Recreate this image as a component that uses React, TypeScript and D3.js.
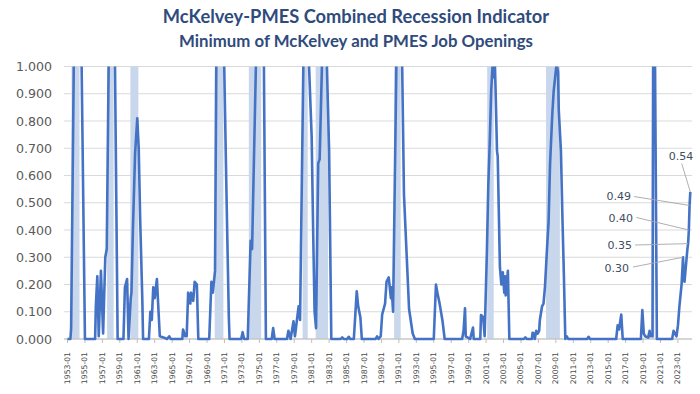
import React, { useEffect, useRef } from "react";
import * as d3 from "d3";

// Puntos del indicador (mes, valor). Valores > 1 quedan recortados por el eje.
const months: string[] = [
  "1953-01", "1953-05", "1953-06", "1953-10", "1954-08", "1955-01",
  "1956-03", "1956-04", "1956-06", "1956-08", "1956-11", "1957-02", "1957-05", "1957-07", "1957-10", "1958-06", "1958-10",
  "1959-06", "1959-08", "1959-11", "1960-01", "1960-04", "1960-05", "1960-07", "1960-10", "1961-01", "1961-03", "1961-05", "1961-08", "1961-09",
  "1962-05", "1962-07", "1962-09", "1962-11", "1963-01", "1963-04", "1963-08", "1964-02", "1964-06", "1964-09", "1964-11",
  "1966-03", "1966-04", "1966-07", "1966-09", "1966-11", "1967-02", "1967-03", "1967-06", "1967-08", "1967-11", "1968-01",
  "1969-04", "1969-07", "1969-09", "1969-12", "1970-02", "1970-12", "1971-04", "1971-07", "1971-08",
  "1972-12", "1973-02", "1973-04", "1973-09", "1974-01", "1974-03", "1974-09", "1975-07", "1975-10",
  "1976-06", "1976-08", "1976-10", "1978-03", "1978-05", "1978-08", "1978-12", "1979-02", "1979-07", "1979-09",
  "1980-02", "1980-08", "1981-01", "1981-03", "1981-05", "1981-07", "1981-10", "1981-12", "1982-04", "1982-09", "1983-01", "1983-04",
  "1984-05", "1984-07", "1984-09", "1985-02", "1985-04", "1985-06", "1985-11", "1986-03", "1986-05", "1986-08", "1986-10",
  "1988-05", "1988-07", "1988-09", "1988-12", "1989-02", "1989-06", "1989-08", "1989-11", "1990-02", "1990-03", "1990-05",
  "1990-10", "1991-05", "1991-08", "1991-12", "1992-03", "1992-08", "1992-11",
  "1995-01", "1995-04", "1995-06", "1995-09", "1996-01", "1996-04",
  "1998-04", "1998-06", "1998-08", "1998-09", "1999-03", "1999-07", "1999-08", "2000-05", "2000-06", "2000-09", "2000-11",
  "2001-02", "2001-04", "2001-06", "2001-08", "2001-10", "2001-12", "2002-01", "2002-02", "2002-04", "2002-05", "2002-08",
  "2002-10", "2002-12", "2003-02", "2003-03", "2003-04", "2003-07", "2003-09",
  "2005-05", "2005-07", "2005-09", "2006-04", "2006-05", "2006-07", "2006-08", "2006-10", "2006-12", "2007-02", "2007-03",
  "2007-06", "2007-08", "2007-10", "2008-01", "2008-03", "2008-05", "2008-08", "2008-10", "2008-12", "2009-02", "2009-04",
  "2009-05", "2009-08", "2009-10", "2009-12", "2010-02", "2010-04", "2010-06",
  "2012-08", "2012-10", "2012-12", "2015-12", "2016-02", "2016-04", "2016-07", "2016-09",
  "2018-10", "2018-12", "2019-02", "2019-04", "2019-08", "2019-10", "2019-11", "2020-02", "2020-03", "2020-05", "2020-08",
  "2022-05", "2022-07", "2022-09", "2022-11", "2023-01", "2023-03", "2023-06", "2023-08", "2023-09", "2023-10", "2023-11",
  "2024-01", "2024-02", "2024-03", "2024-04", "2024-05", "2024-06",
];

const values: number[] = [
  0, 0, 0.04, 1.1, 1.1, 0,
  0, 0.12, 0.23, 0.01, 0.25, 0.02, 0.30, 0.33, 1.1, 1.1, 0,
  0, 0.19, 0.22, 0, 0.15, 0.17, 0.40, 0.68, 0.81, 0.70, 0.44, 0.14, 0,
  0, 0.10, 0.07, 0.19, 0.15, 0.22, 0.01, 0.005, 0, 0.01, 0,
  0, 0.035, 0.01, 0.01, 0.17, 0.13, 0.17, 0.14, 0.21, 0.20, 0,
  0, 0.21, 0.17, 0.25, 1.1, 1.1, 0.5, 0.08, 0,
  0, 0.025, 0, 0, 0.36, 0.33, 1.1, 1.1, 0,
  0, 0.04, 0, 0, 0.03, 0, 0.065, 0.01, 0.12, 0.07,
  1.1, 1.1, 0.74, 0.40, 0.10, 0.04, 0.645, 0.66, 1.1, 1.1, 0.69, 0,
  0, 0.006, 0, 0, 0.008, 0, 0, 0.175, 0.12, 0.08, 0,
  0, 0.01, 0, 0.01, 0.09, 0.13, 0.21, 0.226, 0.15, 0.19, 0.10,
  1.1, 1.1, 0.53, 0.29, 0.11, 0.02, 0,
  0, 0.20, 0.17, 0.13, 0.067, 0,
  0, 0.03, 0.113, 0.01, 0, 0.042, 0, 0, 0.088, 0.08, 0.01,
  0.31, 0.56, 0.72, 0.91, 1.01, 0.96, 1.02, 0.92, 0.69, 0.67, 0.265,
  0.20, 0.245, 0.17, 0.23, 0.16, 0.25, 0,
  0, 0.006, 0, 0, 0.023, 0.02, 0, 0.03, 0.02, 0.03, 0.07,
  0.12, 0.13, 0.19, 0.34, 0.43, 0.64, 0.82, 0.91, 0.96, 1.01, 0.98,
  0.84, 0.69, 0.45, 0.24, 0, 0.01, 0,
  0, 0.008, 0, 0, 0.05, 0.035, 0.09, 0,
  0, 0.106, 0.02, 0.01, 0.005, 0.03, 0.01, 0.01, 1.2, 1.2, 0,
  0, 0.03, 0.02, 0.01, 0.05, 0.12, 0.20, 0.30, 0.22, 0.21, 0.24,
  0.30, 0.33, 0.35, 0.40, 0.49, 0.54,
];

// Recesiones NBER (sombreado)
const recessionStarts: string[] = ["1953-07", "1957-08", "1960-04", "1969-12", "1973-11", "1980-01", "1981-07", "1990-07", "2001-03", "2007-12", "2020-02"];
const recessionEnds: string[] = ["1954-05", "1958-04", "1961-02", "1970-11", "1975-03", "1980-07", "1982-11", "1991-03", "2001-11", "2009-06", "2020-04"];

const yTicks: number[] = [0, 0.1, 0.2, 0.3, 0.4, 0.5, 0.6, 0.7, 0.8, 0.9, 1.0];

// Etiquetas de los últimos valores
const labelMonths: string[] = ["2024-06", "2024-05", "2024-04", "2024-03", "2023-08"];
const labelValues: number[] = [0.54, 0.49, 0.40, 0.35, 0.30];

const FIRST = "1953-01";
const LAST = "2024-06";

const monthIndex = (m: string): number => {
  const [y, mo] = m.split("-").map(Number);
  const [y0, m0] = FIRST.split("-").map(Number);
  return (y - y0) * 12 + (mo - m0);
};

const App: React.FC = () => {
  const svgRef = useRef<SVGSVGElement | null>(null);

  useEffect(() => {
    if (!svgRef.current) return;
    const svg = d3.select(svgRef.current);
    svg.selectAll("*").remove();

    const width = 700;
    const height = 394;
    const plot = { left: 64, right: 692, top: 66.5, bottom: 339 };

    const x = d3.scaleLinear().domain([0, monthIndex(LAST)]).range([67.5, 690.3]);
    const y = d3.scaleLinear().domain([0, 1]).range([plot.bottom, plot.top]);

    svg.attr("width", width).attr("height", height);
    svg.append("rect").attr("width", width).attr("height", height).attr("fill", "#ffffff");

    // títulos
    svg.append("text")
      .attr("x", 356).attr("y", 23)
      .attr("text-anchor", "middle")
      .style("font-family", "Lato, 'Open Sans', sans-serif")
      .style("font-weight", "bold")
      .style("font-size", "18.3px")
      .style("fill", "#2f4b7c")
      .text("McKelvey-PMES Combined Recession Indicator");

    svg.append("text")
      .attr("x", 356).attr("y", 47)
      .attr("text-anchor", "middle")
      .style("font-family", "Lato, 'Open Sans', sans-serif")
      .style("font-weight", "bold")
      .style("font-size", "16.8px")
      .style("fill", "#2f4b7c")
      .text("Minimum of McKelvey and PMES Job Openings");

    // cuadrícula
    svg.append("g")
      .selectAll("line")
      .data(yTicks)
      .join("line")
      .attr("x1", plot.left).attr("x2", plot.right)
      .attr("y1", (d) => y(d)).attr("y2", (d) => y(d))
      .attr("stroke", "#d9d9d9")
      .attr("stroke-width", 1);

    // recesiones
    svg.append("g")
      .selectAll("rect")
      .data(recessionStarts.map((s, i) => [monthIndex(s), monthIndex(recessionEnds[i])]))
      .join("rect")
      .attr("x", (d) => x(d[0] - 0.5))
      .attr("width", (d) => x(d[1] + 0.5) - x(d[0] - 0.5))
      .attr("y", y(1))
      .attr("height", y(0) - y(1))
      .attr("fill", "#c9d7ec");

    // eje Y
    svg.append("g")
      .selectAll("text")
      .data(yTicks)
      .join("text")
      .attr("x", 52).attr("y", (d) => y(d))
      .attr("text-anchor", "end")
      .attr("dominant-baseline", "central")
      .style("font-family", "'DejaVu Sans', sans-serif")
      .style("font-size", "12.6px")
      .style("fill", "#595959")
      .text((d) => d3.format(".3f")(d));

    // eje X
    svg.append("line")
      .attr("x1", plot.left).attr("x2", plot.right)
      .attr("y1", plot.bottom).attr("y2", plot.bottom)
      .attr("stroke", "#bfbfbf");

    const xTicks = d3.range(0, monthIndex(LAST) + 1, 24);
    const xg = svg.append("g");
    xg.selectAll("line")
      .data(xTicks)
      .join("line")
      .attr("x1", (d) => x(d)).attr("x2", (d) => x(d))
      .attr("y1", plot.bottom).attr("y2", plot.bottom + 4)
      .attr("stroke", "#bfbfbf");
    xg.selectAll("text")
      .data(xTicks)
      .join("text")
      .attr("transform", (d) => `translate(${x(d)},${plot.bottom + 13}) rotate(-90)`)
      .attr("text-anchor", "end")
      .attr("dominant-baseline", "central")
      .style("font-family", "'DejaVu Sans', sans-serif")
      .style("font-size", "7.7px")
      .style("fill", "#4a4a4a")
      .text((d) => `${1953 + Math.floor(d / 12)}-01`);

    // línea
    svg.append("clipPath").attr("id", "plotclip")
      .append("rect")
      .attr("x", plot.left).attr("y", y(1))
      .attr("width", plot.right - plot.left).attr("height", height - y(1));

    const pts: [number, number][] = months.map((m, i) => [monthIndex(m), values[i]]);
    const line = d3.line<[number, number]>()
      .x((d) => x(d[0]))
      .y((d) => y(d[1]));

    svg.append("path")
      .datum(pts)
      .attr("clip-path", "url(#plotclip)")
      .attr("d", line)
      .attr("fill", "none")
      .attr("stroke", "#4472c4")
      .attr("stroke-width", 2.6)
      .attr("stroke-linejoin", "round");

    // etiquetas con líneas guía
    const labelPos = [
      { tx: 681, ty: 156, anchor: "middle", lx: 681.7, ly: 163.5 },
      { tx: 631, ty: 196.5, anchor: "end", lx: 634, ly: 196.5 },
      { tx: 633, ty: 218, anchor: "end", lx: 636.5, ly: 217.5 },
      { tx: 632, ty: 245, anchor: "end", lx: 635, ly: 245 },
      { tx: 629, ty: 268, anchor: "end", lx: 633, ly: 267 },
    ];
    const lg = svg.append("g");
    labelValues.forEach((v, i) => {
      const p = labelPos[i];
      lg.append("line")
        .attr("x1", p.lx).attr("y1", p.ly)
        .attr("x2", x(monthIndex(labelMonths[i]))).attr("y2", y(v))
        .attr("stroke", "#a6a6a6")
        .attr("stroke-width", 0.9);
      lg.append("text")
        .attr("x", p.tx).attr("y", p.ty)
        .attr("text-anchor", p.anchor)
        .attr("dominant-baseline", "central")
        .style("font-family", "'DejaVu Sans', sans-serif")
        .style("font-size", "11px")
        .style("fill", "#404d63")
        .text(v.toFixed(2));
    });
  }, []);

  return (
    <svg ref={svgRef} style={{ position: "absolute", left: 0, top: 0, display: "block" }}></svg>
  );
};

export default App;
